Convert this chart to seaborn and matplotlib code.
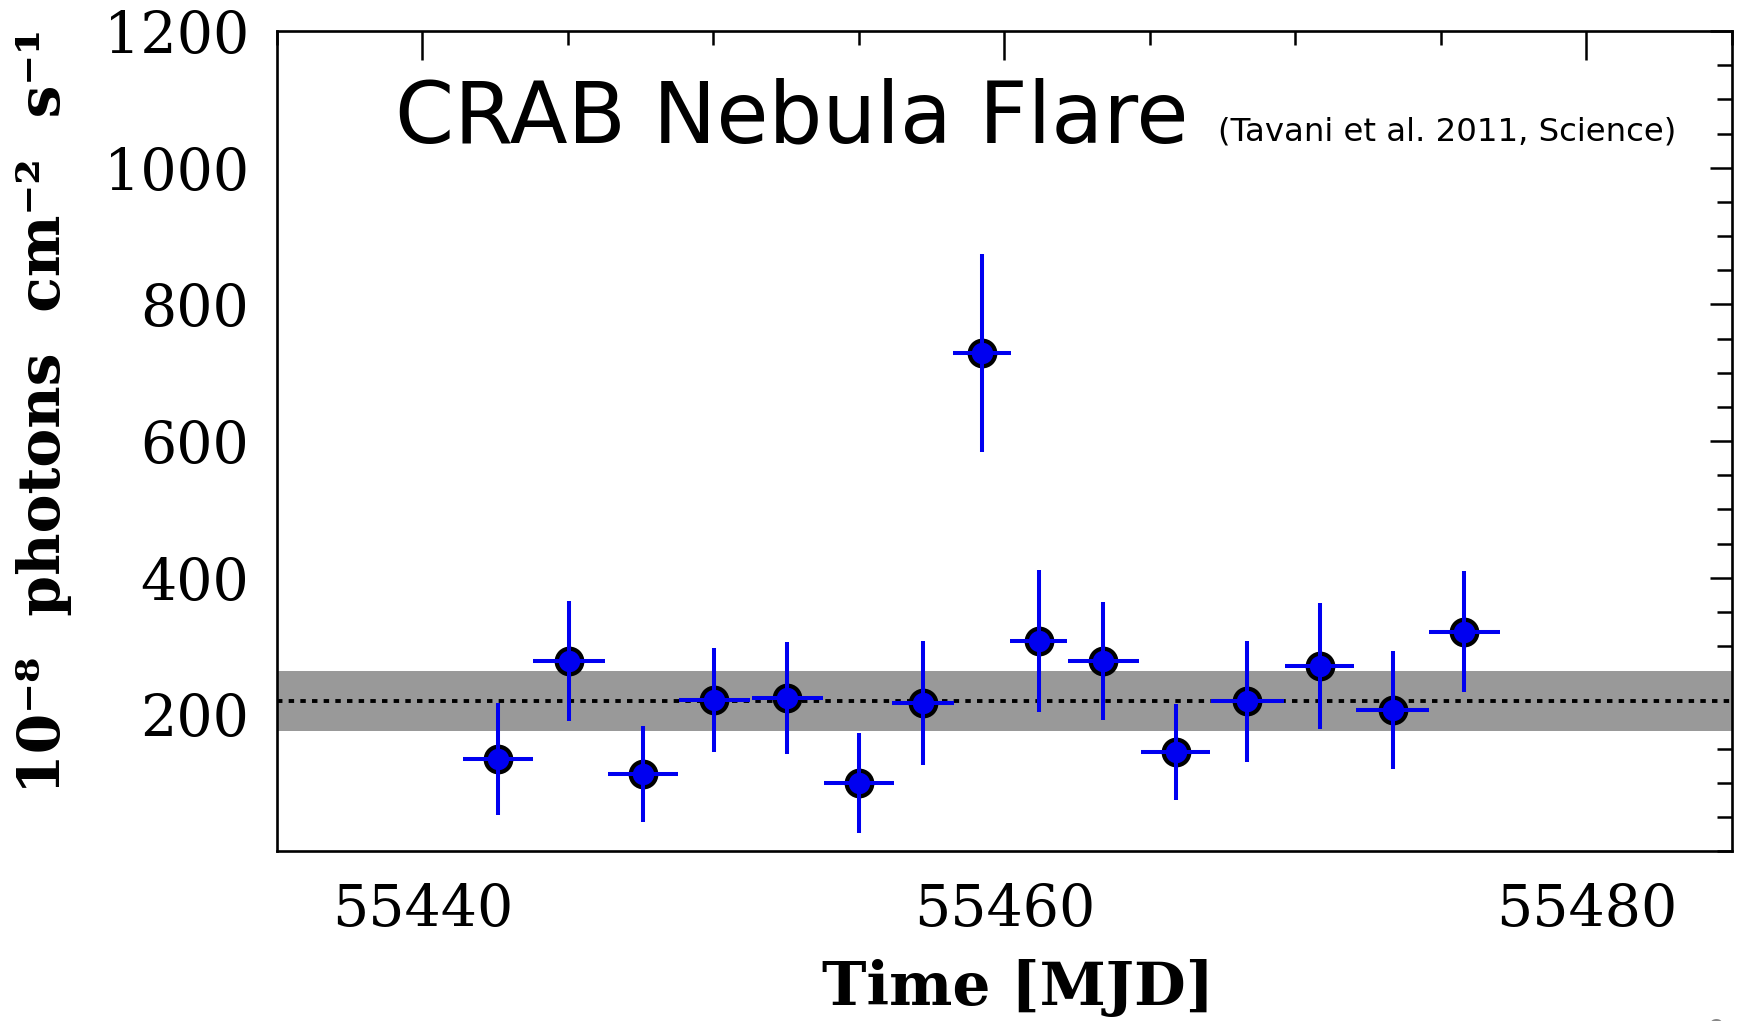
import matplotlib
matplotlib.use("Agg")
import matplotlib.pyplot as plt
from matplotlib.ticker import MultipleLocator
import seaborn as sns
import pandas as pd

# AGILE gamma-ray light curve of the Crab, September 2010
mjd = [55442.60, 55445.05, 55447.58, 55450.03, 55452.53, 55455.00, 55457.20,
       55459.22, 55461.17, 55463.39, 55465.88, 55468.35, 55470.83, 55473.34,
       55475.80]
flux = [135, 278, 113, 221, 224, 100, 217, 729, 307, 278, 145, 219, 271, 206, 321]
flux_err = [82, 88, 70, 76, 82, 73, 91, 145, 104, 86, 70, 89, 92, 86, 89]
mjd_halfbin = [1.20, 1.24, 1.20, 1.21, 1.22, 1.21, 1.05, 1.00, 0.97, 1.22,
               1.19, 1.25, 1.19, 1.26, 1.22]

# average flux and its 1-sigma band
mean_flux = 219
band_low, band_high = 175, 263

x_ticks = [55440, 55460, 55480]
y_ticks = [200, 400, 600, 800, 1000, 1200]

df = pd.DataFrame({"mjd": mjd, "flux": flux})

sns.set_theme(style="white")
plt.rcParams["font.family"] = ["DejaVu Serif"]
plt.rcParams["text.color"] = "black"

fig = plt.figure(figsize=(17.44, 10.21), dpi=100)
ax = fig.add_axes([0.1588, 0.1665, 0.8343, 0.8031])

ax.axhspan(band_low, band_high, color="#999999", lw=0, zorder=1)
ax.axhline(mean_flux, color="black", lw=2.8, dashes=(1.4, 1.6), zorder=2)

blue = "#0000f0"
sns.scatterplot(data=df, x="mjd", y="flux", ax=ax, s=340, color=blue,
                edgecolor="black", linewidth=3.0, zorder=3, legend=False)
ax.errorbar(mjd, flux, yerr=flux_err, xerr=mjd_halfbin, fmt="none",
            ecolor=blue, elinewidth=2.9, capsize=0, zorder=4)

ax.set_xlim(55435, 55485)
ax.set_ylim(0, 1200)
ax.set_xticks(x_ticks)
ax.set_yticks(y_ticks)
ax.xaxis.set_minor_locator(MultipleLocator(5))
ax.yaxis.set_minor_locator(MultipleLocator(50))

for s in ax.spines.values():
    s.set_color("black")
    s.set_linewidth(1.9)

ax.tick_params(which="both", direction="in", top=True, right=True,
               width=1.8, color="black", labelsize=41, labelcolor="black")
ax.tick_params(axis="x", which="major", length=21, pad=22)
ax.tick_params(axis="x", which="minor", length=10)
ax.tick_params(axis="y", which="major", length=16, pad=20)
ax.tick_params(axis="y", which="minor", length=11)
ax.set_xlabel("")
ax.set_ylabel("")

fig.text(0.5837, 0.0323, "Time [MJD]", ha="center", va="center",
         fontsize=43, fontweight="bold", family="DejaVu Serif", color="black")
fig.text(0.0252, 0.5975, "10⁻⁸  photons  cm⁻²  s⁻¹", ha="center", va="center",
         rotation=90, fontsize=42, fontweight="bold", family="DejaVu Serif",
         color="black")

ax.text(0.081, 0.864, "CRAB Nebula Flare", transform=ax.transAxes,
        ha="left", va="baseline", fontsize=61, family="DejaVu Sans",
        color="black")
ax.text(0.6467, 0.866, "(Tavani et al. 2011, Science)", transform=ax.transAxes,
        ha="left", va="baseline", fontsize=23.3, family="DejaVu Sans",
        color="black")

fig.text(0.979, 0.003, "9", ha="left", va="top", fontsize=20,
         color="#888888", family="DejaVu Sans")

fig.savefig("out.png", dpi=100, facecolor="white")
